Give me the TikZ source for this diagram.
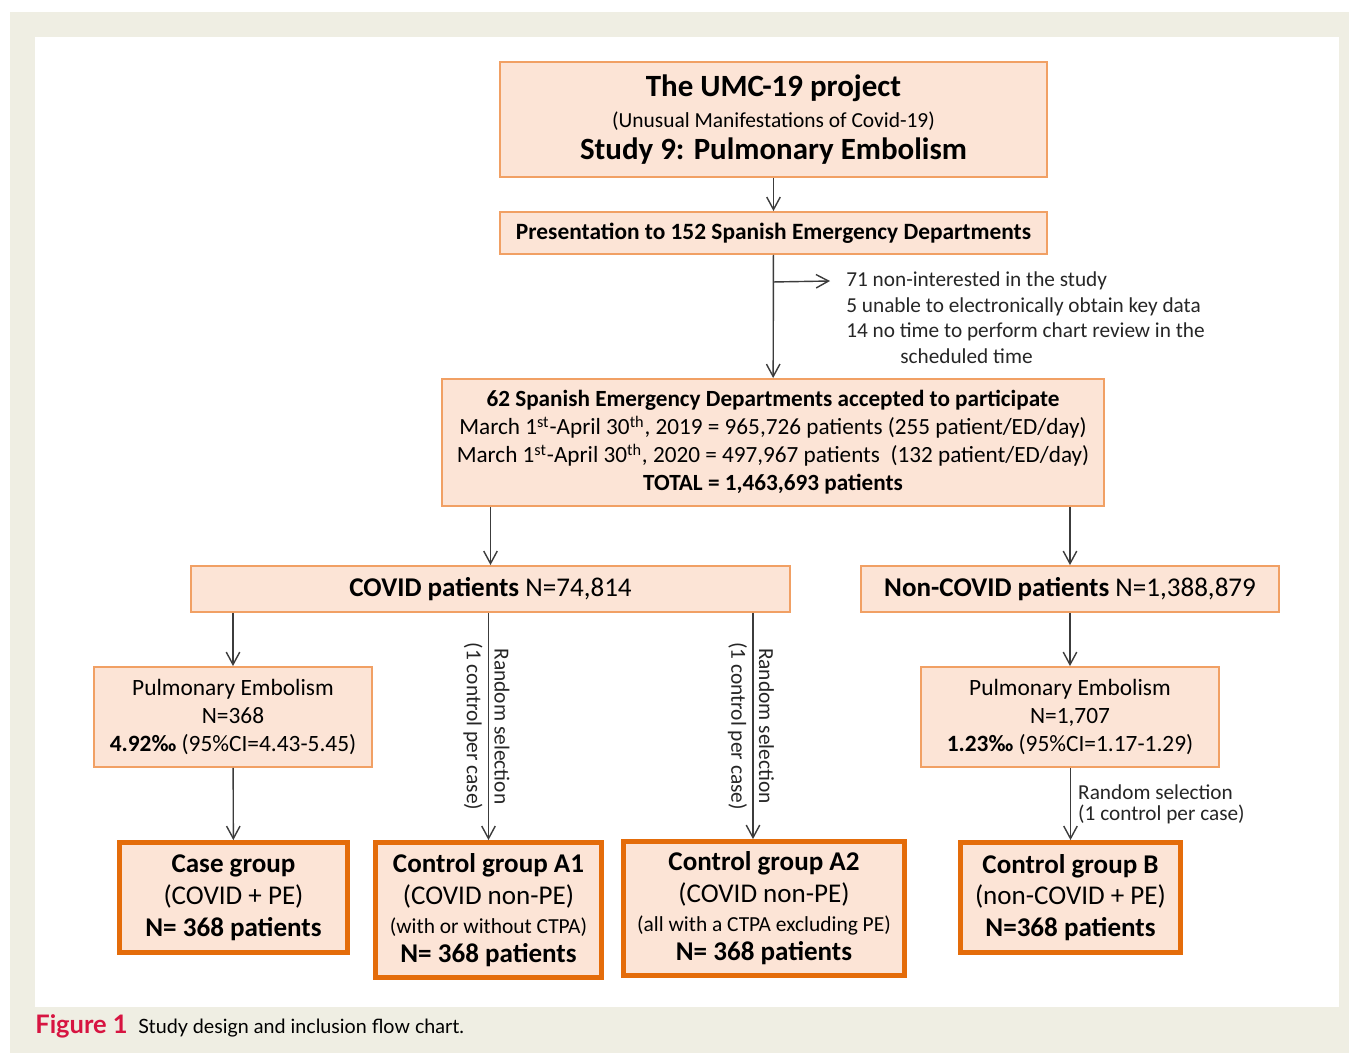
\documentclass[tikz,border=0pt]{standalone}
\usepackage{fontspec}
\setmainfont{Carlito}
\newfontfamily\capfont{Lato}
\usetikzlibrary{arrows.meta,positioning}

\definecolor{peach}{RGB}{252,228,214}
\definecolor{thinorange}{RGB}{241,160,100}
\definecolor{thickorange}{RGB}{228,108,10}
\definecolor{panelbeige}{RGB}{239,238,227}
\definecolor{figred}{RGB}{215,20,65}
\definecolor{arrowgray}{RGB}{60,60,60}

\begin{document}
\begin{tikzpicture}[
    box/.style={draw=thinorange, line width=1.1pt, fill=peach, align=center, inner sep=2pt},
    groupbox/.style={draw=thickorange, line width=2.8pt, fill=peach, align=center, inner sep=2pt,
      font=\fontsize{15.4}{18.1}\selectfont},
    arr/.style={draw=arrowgray, line width=0.8pt, -{Straight Barb[length=2.5mm,width=2.7mm]}},
    txt/.style={font=\fontsize{12.1}{14.5}\selectfont, text=black!85},
    sidetxt/.style={txt, font=\fontsize{12.2}{12}\selectfont, inner sep=3pt}
  ]

  % Fondo y marco de la figura
  \useasboundingbox (0,0) rectangle (26.98,-21.06);
  \fill[panelbeige] (0.2,-0.24) rectangle (26.98,-21.06);
  \fill[white] (0.7,-0.74) rectangle (26.78,-20.14);

  % Cajas superiores
  \node[box, minimum width=10.94cm, minimum height=2.3cm, font=\fontsize{17.6}{17.8}\selectfont] (umc) at (15.47,-2.39)
    {\textbf{The UMC-19 project}\\
     {\fontsize{12.2}{13}\selectfont (Unusual Manifestations of Covid-19)}\\
     \textbf{Study 9: Pulmonary Embolism}};
  \node[box, minimum width=10.94cm, minimum height=0.84cm, font=\fontsize{13.3}{14}\selectfont\bfseries] (present) at (15.47,-4.66)
    {Presentation to 152 Spanish Emergency Departments};
  \node[box, minimum width=13.24cm, minimum height=2.54cm, font=\fontsize{13.2}{15.9}\selectfont] (accepted) at (15.46,-8.85)
    {\textbf{62 Spanish Emergency Departments accepted to participate}\\
     March 1\textsuperscript{st}-April 30\textsuperscript{th}, 2019 = 965,726 patients (255 patient/ED/day)\\
     March 1\textsuperscript{st}-April 30\textsuperscript{th}, 2020 = 497,967 patients\ \ (132 patient/ED/day)\\
     \textbf{TOTAL = 1,463,693 patients}};

  % Exclusiones
  \draw[arr] (umc) -- (present);
  \draw[arr] (present) -- (accepted);
  \path (present.south) ++(0,-0.54) coordinate (branch);
  \coordinate (exend) at (16.6,-5.62);
  \draw[arr] (branch) -- (exend);
  \node[txt, anchor=west, align=left, inner sep=0pt] (excluded) at (16.92,-6.35)
    {71 non-interested in the study\\
     5 unable to electronically obtain key data\\
     14 no time to perform chart review in the\\
     \hspace*{1.08cm}scheduled time};

  % Pacientes COVID / no COVID
  \node[box, minimum width=11.98cm, minimum height=0.92cm, font=\fontsize{15.4}{16}\selectfont] (covid) at (9.81,-11.78)
    {\textbf{COVID patients} N=74,814};
  \node[box, minimum width=8.36cm, minimum height=0.92cm, font=\fontsize{15.4}{16}\selectfont] (noncovid) at (21.40,-11.78)
    {\textbf{Non-COVID patients} N=1,388,879};
  \draw[arr] (accepted.south -| covid.north) -- (covid.north);
  \draw[arr] (accepted.south -| noncovid.north) -- (noncovid.north);

  % Embolia pulmonar
  \node[box, minimum width=5.56cm, minimum height=2cm, font=\fontsize{13.3}{15.9}\selectfont] (pecovid) at (4.66,-14.34)
    {Pulmonary Embolism\\ N=368\\ \textbf{4.92‰} (95\%CI=4.43-5.45)};
  \node[box, minimum width=5.96cm, minimum height=2cm, font=\fontsize{13.3}{15.9}\selectfont] (penoncovid) at (21.40,-14.34)
    {Pulmonary Embolism\\ N=1,707\\ \textbf{1.23‰} (95\%CI=1.17-1.29)};
  \draw[arr] (covid.south -| pecovid.north) -- (pecovid.north);
  \draw[arr] (noncovid) -- (penoncovid);

  % Grupos finales (borde grueso)
  \node[groupbox, minimum width=4.56cm, minimum height=2.2cm] (case) at (4.67,-17.95)
    {\textbf{Case group}\\ (COVID + PE)\\ \textbf{N= 368 patients}};
  \node[groupbox, minimum width=4.52cm, minimum height=2.70cm] (ctrlA1) at (9.77,-18.20)
    {\textbf{Control group A1}\\ (COVID non-PE)\\[-1.5pt]
     {\fontsize{12.2}{12}\selectfont (with or without CTPA)}\\[-1.5pt]
     \textbf{N= 368 patients}};
  \node[groupbox, minimum width=5.62cm, minimum height=2.68cm] (ctrlA2) at (15.28,-18.17)
    {\textbf{Control group A2}\\ (COVID non-PE)\\[-1.5pt]
     {\fontsize{12.2}{12}\selectfont (all with a CTPA excluding PE)}\\[-1.5pt]
     \textbf{N= 368 patients}};
  \node[groupbox, minimum width=4.40cm, minimum height=2.2cm] (ctrlB) at (21.41,-17.95)
    {\textbf{Control group B}\\ (non-COVID + PE)\\ \textbf{N=368 patients}};

  % Flechas de seleccion
  \draw[arr] (pecovid) -- (case);
  \draw[arr] (covid.south -| ctrlA1.north) -- (ctrlA1.north)
    node[midway, sloped, above, sidetxt] {Random selection}
    node[midway, sloped, below, sidetxt] {(1 control per case)};
  \draw[arr] ([xshift=-0.22cm]ctrlA2.north |- covid.south) -- ([xshift=-0.22cm]ctrlA2.north)
    node[midway, sloped, above, sidetxt] {Random selection}
    node[midway, sloped, below, sidetxt] {(1 control per case)};
  \draw[arr] (penoncovid.south -| ctrlB.north) -- (ctrlB.north)
    node[midway, right, align=left, sidetxt, font=\fontsize{12.1}{12}\selectfont, inner sep=4pt] {Random selection\\(1 control per case)};

  % Pie de figura
  \node[anchor=base west, inner sep=0pt, font=\capfont\fontsize{14.5}{15}\selectfont\bfseries, text=figred] (figlabel) at (0.7,-20.66) {Figure 1};
  \node[anchor=base west, inner sep=0pt, font=\capfont\fontsize{11.2}{13}\selectfont] (caption) at ([xshift=0.2cm]figlabel.base east) {Study design and inclusion flow chart.};

\end{tikzpicture}
\end{document}
